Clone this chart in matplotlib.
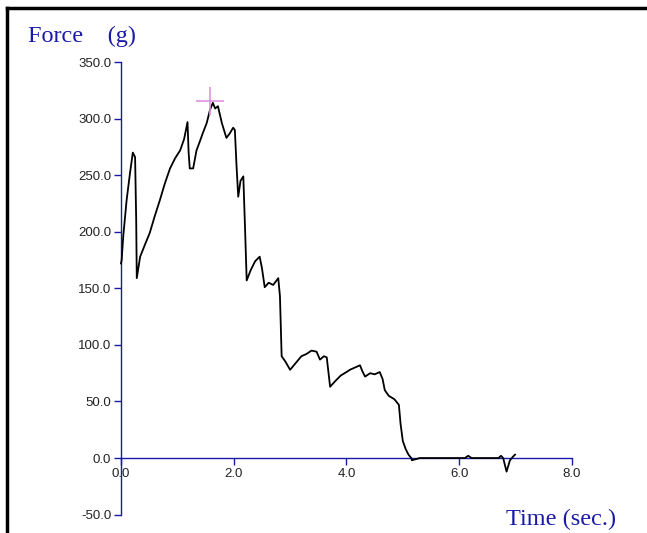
import matplotlib.pyplot as plt
from matplotlib.lines import Line2D

# Dados (tempo em s, força em g)
tempo = [0.00, 0.012, 0.04, 0.10, 0.16, 0.21, 0.25, 0.27, 0.28, 0.34, 0.42, 0.51,
         0.60, 0.69, 0.78, 0.87, 0.96, 1.05, 1.12, 1.18, 1.20, 1.22, 1.28, 1.34,
         1.40, 1.45, 1.52, 1.58, 1.63, 1.67, 1.72, 1.79, 1.87, 1.93, 1.99, 2.02,
         2.05, 2.08, 2.12, 2.17, 2.20, 2.23, 2.30, 2.38, 2.46, 2.50, 2.55, 2.62,
         2.70, 2.79, 2.82, 2.85, 2.92, 3.00, 3.10, 3.20, 3.29, 3.38, 3.47, 3.53,
         3.60, 3.65, 3.71, 3.80, 3.90, 4.00, 4.06, 4.15, 4.24, 4.28, 4.33, 4.42,
         4.50, 4.59, 4.64, 4.68, 4.75, 4.85, 4.93, 4.96, 5.00, 5.05, 5.10, 5.15,
         5.16, 5.30, 6.10, 6.16, 6.22, 6.70, 6.74, 6.78, 6.84, 6.90, 6.95, 6.99]
forca = [172, 175, 196, 228, 252, 270, 266, 210, 159, 178, 188, 199,
         214, 228, 243, 256, 265, 272, 282, 297, 270, 256, 256, 272,
         280, 287, 296, 308, 314, 309, 311, 296, 283, 287, 292, 290,
         258, 231, 245, 249, 204, 157, 166, 174, 178, 168, 151, 155,
         153, 159, 143, 90, 85, 78, 84, 90, 92, 95, 94, 87,
         90, 89, 63, 68, 73, 76, 78, 80, 82, 77, 72, 75,
         74, 76, 70, 60, 55, 52, 47, 30, 15, 8, 3, 0,
         -2, 0, 0, 2, 0, 0, 2, 0, -12, -2, 1, 3]

pico_t, pico_f = [1.58], [315.6]

x_ticks = [0, 2, 4, 6, 8]
y_ticks = [-50, 0, 50, 100, 150, 200, 250, 300, 350]

azul = '#1a1aa8'

fig = plt.figure(figsize=(6.47, 5.33), dpi=100)
ax = fig.add_axes([0.187, 0.0345, 0.697, 0.849])

ax.plot(tempo, forca, color='black', lw=1.3, zorder=5, clip_on=False)
ax.plot(pico_t, pico_f, marker='+', color='#e090e0', markersize=20,
        markeredgewidth=1.2, zorder=6, clip_on=False)

ax.set_xlim(0, 8)
ax.set_ylim(-50, 350)

for lado in ['top', 'right']:
    ax.spines[lado].set_visible(False)
ax.spines['bottom'].set_position(('data', 0))
ax.spines['left'].set_position(('data', 0))
for lado in ['left', 'bottom']:
    ax.spines[lado].set_color(azul)
    ax.spines[lado].set_linewidth(1.0)

ax.set_xticks(x_ticks)
ax.set_xticklabels([f'{v:.1f}' for v in x_ticks])
ax.set_yticks(y_ticks)
ax.set_yticklabels([f'{v:.1f}' for v in y_ticks])
ax.tick_params(axis='both', direction='out', length=5, width=1, color=azul,
               labelsize=9.5, labelcolor='#222222', pad=2)
for lbl in ax.get_xticklabels() + ax.get_yticklabels():
    lbl.set_family('Liberation Sans')

# Rótulos dos eixos
fig.text(28 / 647, 1 - 42 / 533, 'Force    (g)', color=azul, fontsize=17.5,
         family='Liberation Serif', ha='left', va='baseline')
fig.text(616 / 647, 1 - 525 / 533, 'Time (sec.)', color=azul, fontsize=17.5,
         family='Liberation Serif', ha='right', va='baseline')

# Moldura (só topo e esquerda aparecem)
fig.add_artist(Line2D([7 / 647, 1], [1 - 8 / 533, 1 - 8 / 533], color='black', lw=2.5))
fig.add_artist(Line2D([7 / 647, 7 / 647], [0, 1 - 8 / 533], color='black', lw=2.5))

fig.savefig('out.png', dpi=100, facecolor='white')
